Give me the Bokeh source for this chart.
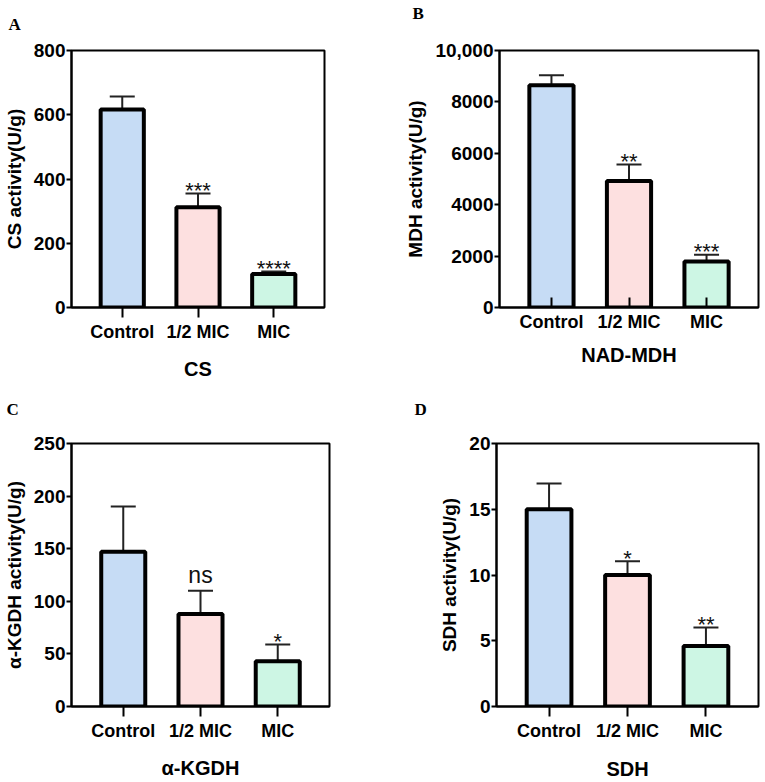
from bokeh.plotting import figure
from bokeh.models import ColumnDataSource, Range1d, FixedTicker, Whisker, TeeHead, Label
from bokeh.layouts import column, row
from bokeh.embed import file_html
from bokeh.resources import INLINE
from bokeh.core.properties import value

# Treatment groups
groups = ["Control", "1/2 MIC", "MIC"]
group_pos = [1, 2, 3]
bar_colors = ["#c6dcf5", "#fde0e0", "#cdf6e4"]

# Panel A: citrate synthase
cs_mean = [616, 312, 104]
cs_sd = [41, 43, 8]
cs_sig = ["", "***", "****"]
cs_ticks = [0, 200, 400, 600, 800]

# Panel B: NAD-malate dehydrogenase
mdh_mean = [8650, 4920, 1790]
mdh_sd = [390, 640, 260]
mdh_sig = ["", "**", "***"]
mdh_ticks = [0, 2000, 4000, 6000, 8000, 10000]

# Panel C: alpha-ketoglutarate dehydrogenase
kgdh_mean = [147, 88, 43]
kgdh_sd = [43, 22, 16]
kgdh_sig = ["", "ns", "*"]
kgdh_ticks = [0, 50, 100, 150, 200, 250]

# Panel D: succinate dehydrogenase
sdh_mean = [15.0, 10.0, 4.6]
sdh_sd = [1.95, 1.05, 1.4]
sdh_sig = ["", "*", "**"]
sdh_ticks = [0, 5, 10, 15, 20]

SANS = "Liberation Sans"
SERIF = "Liberation Serif"


def panel(letter, mean, sd, sig, ticks, ylabel, xlabel, width, height, borders,
          tick_labels=None, x_ticks_inside=False, title_standoff=14,
          letter_dx=-60, letter_dy=20):
    left, right, top, bottom = borders
    p = figure(width=width, height=height, output_backend="svg", toolbar_location=None,
               title=None,
               x_range=Range1d(0.33, 3.67), y_range=Range1d(ticks[0], ticks[-1]),
               min_border_left=left, min_border_right=right,
               min_border_top=top, min_border_bottom=bottom)
    p.background_fill_color = "white"
    p.border_fill_color = "white"
    p.outline_line_color = "black"
    p.outline_line_width = 2
    p.xgrid.visible = False
    p.ygrid.visible = False

    # panel letter in the strip above the frame
    p.add_layout(Label(x=letter_dx, y=letter_dy, x_units="screen", y_units="screen",
                       text=letter, text_font=SERIF, text_font_style="bold",
                       text_font_size="17px", text_baseline="top",
                       text_color="black"), "above")

    tops = [m + s for m, s in zip(mean, sd)]
    src = ColumnDataSource(dict(x=group_pos, top=mean, upper=tops, color=bar_colors))

    p.vbar(x="x", top="top", bottom=0, width=0.57, source=src, fill_color="color",
           line_color="black", line_width=4)

    p.add_layout(Whisker(source=src, base="x", lower="top", upper="upper",
                         line_color="#222222", line_width=2,
                         upper_head=TeeHead(size=25, line_color="#222222", line_width=2),
                         lower_head=None))

    # significance marks above the error bars
    for xi, up, s in zip(group_pos, tops, sig):
        if not s:
            continue
        is_ns = s == "ns"
        p.text(x=[xi], y=[up], text=[s], text_align="center",
               text_baseline="alphabetic", text_font=value(SANS),
               text_font_size="23px" if is_ns else "22px",
               y_offset=-16 if is_ns else -3, text_color="#111111")

    # x axis
    xa = p.xaxis[0]
    xa.ticker = FixedTicker(ticks=group_pos)
    xa.major_label_overrides = {g: t for g, t in zip(group_pos, groups)}
    xa.minor_tick_line_color = None
    xa.axis_line_width = 2
    xa.major_tick_line_width = 2
    if x_ticks_inside:
        xa.major_tick_in = 10
        xa.major_tick_out = 0
    else:
        xa.major_tick_in = 0
        xa.major_tick_out = 10
    xa.major_label_standoff = 4
    xa.major_label_text_font = SANS
    xa.major_label_text_font_style = "bold"
    xa.major_label_text_font_size = "18px"
    xa.major_label_text_color = "black"
    xa.axis_label = xlabel
    xa.axis_label_text_font = SANS
    xa.axis_label_text_font_style = "bold"
    xa.axis_label_text_font_size = "20px"
    xa.axis_label_text_color = "black"
    xa.axis_label_standoff = title_standoff

    # y axis
    ya = p.yaxis[0]
    ya.ticker = FixedTicker(ticks=ticks)
    if tick_labels:
        ya.major_label_overrides = tick_labels
    ya.minor_tick_line_color = None
    ya.axis_line_width = 2
    ya.major_tick_line_width = 2
    ya.major_tick_in = 0
    ya.major_tick_out = 5
    ya.major_label_standoff = 1
    ya.major_label_text_font = SANS
    ya.major_label_text_font_style = "bold"
    ya.major_label_text_font_size = "19px"
    ya.major_label_text_color = "black"
    ya.axis_label = ylabel
    ya.axis_label_text_font = SANS
    ya.axis_label_text_font_style = "bold"
    ya.axis_label_text_font_size = "19px"
    ya.axis_label_text_color = "black"
    ya.axis_label_standoff = 6
    return p


pA = panel("A", cs_mean, cs_sd, cs_sig, cs_ticks, "CS activity(U/g)", "CS",
           382, 390, (67, 58, 50, 83), title_standoff=13,
           letter_dx=-63, letter_dy=36)
pB = panel("B", mdh_mean, mdh_sd, mdh_sig, mdh_ticks, "MDH activity(U/g)", "NAD-MDH",
           383, 390, (117, 7, 49, 83), tick_labels={10000: "10,000"},
           x_ticks_inside=True, title_standoff=9,
           letter_dx=-87, letter_dy=47)
pC = panel("C", kgdh_mean, kgdh_sd, kgdh_sig, kgdh_ticks, "\u03b1-KGDH activity(U/g)",
           "\u03b1-KGDH", 382, 392, (67, 53, 53, 76), title_standoff=13,
           letter_dx=-65, letter_dy=44)
pD = panel("D", sdh_mean, sdh_sd, sdh_sig, sdh_ticks, "SDH activity(U/g)", "SDH",
           383, 392, (114, 7, 52, 76), title_standoff=14,
           letter_dx=-82, letter_dy=44)

layout = column(row(pA, pB), row(pC, pD))
open("out.html", "w").write(file_html(layout, INLINE))
